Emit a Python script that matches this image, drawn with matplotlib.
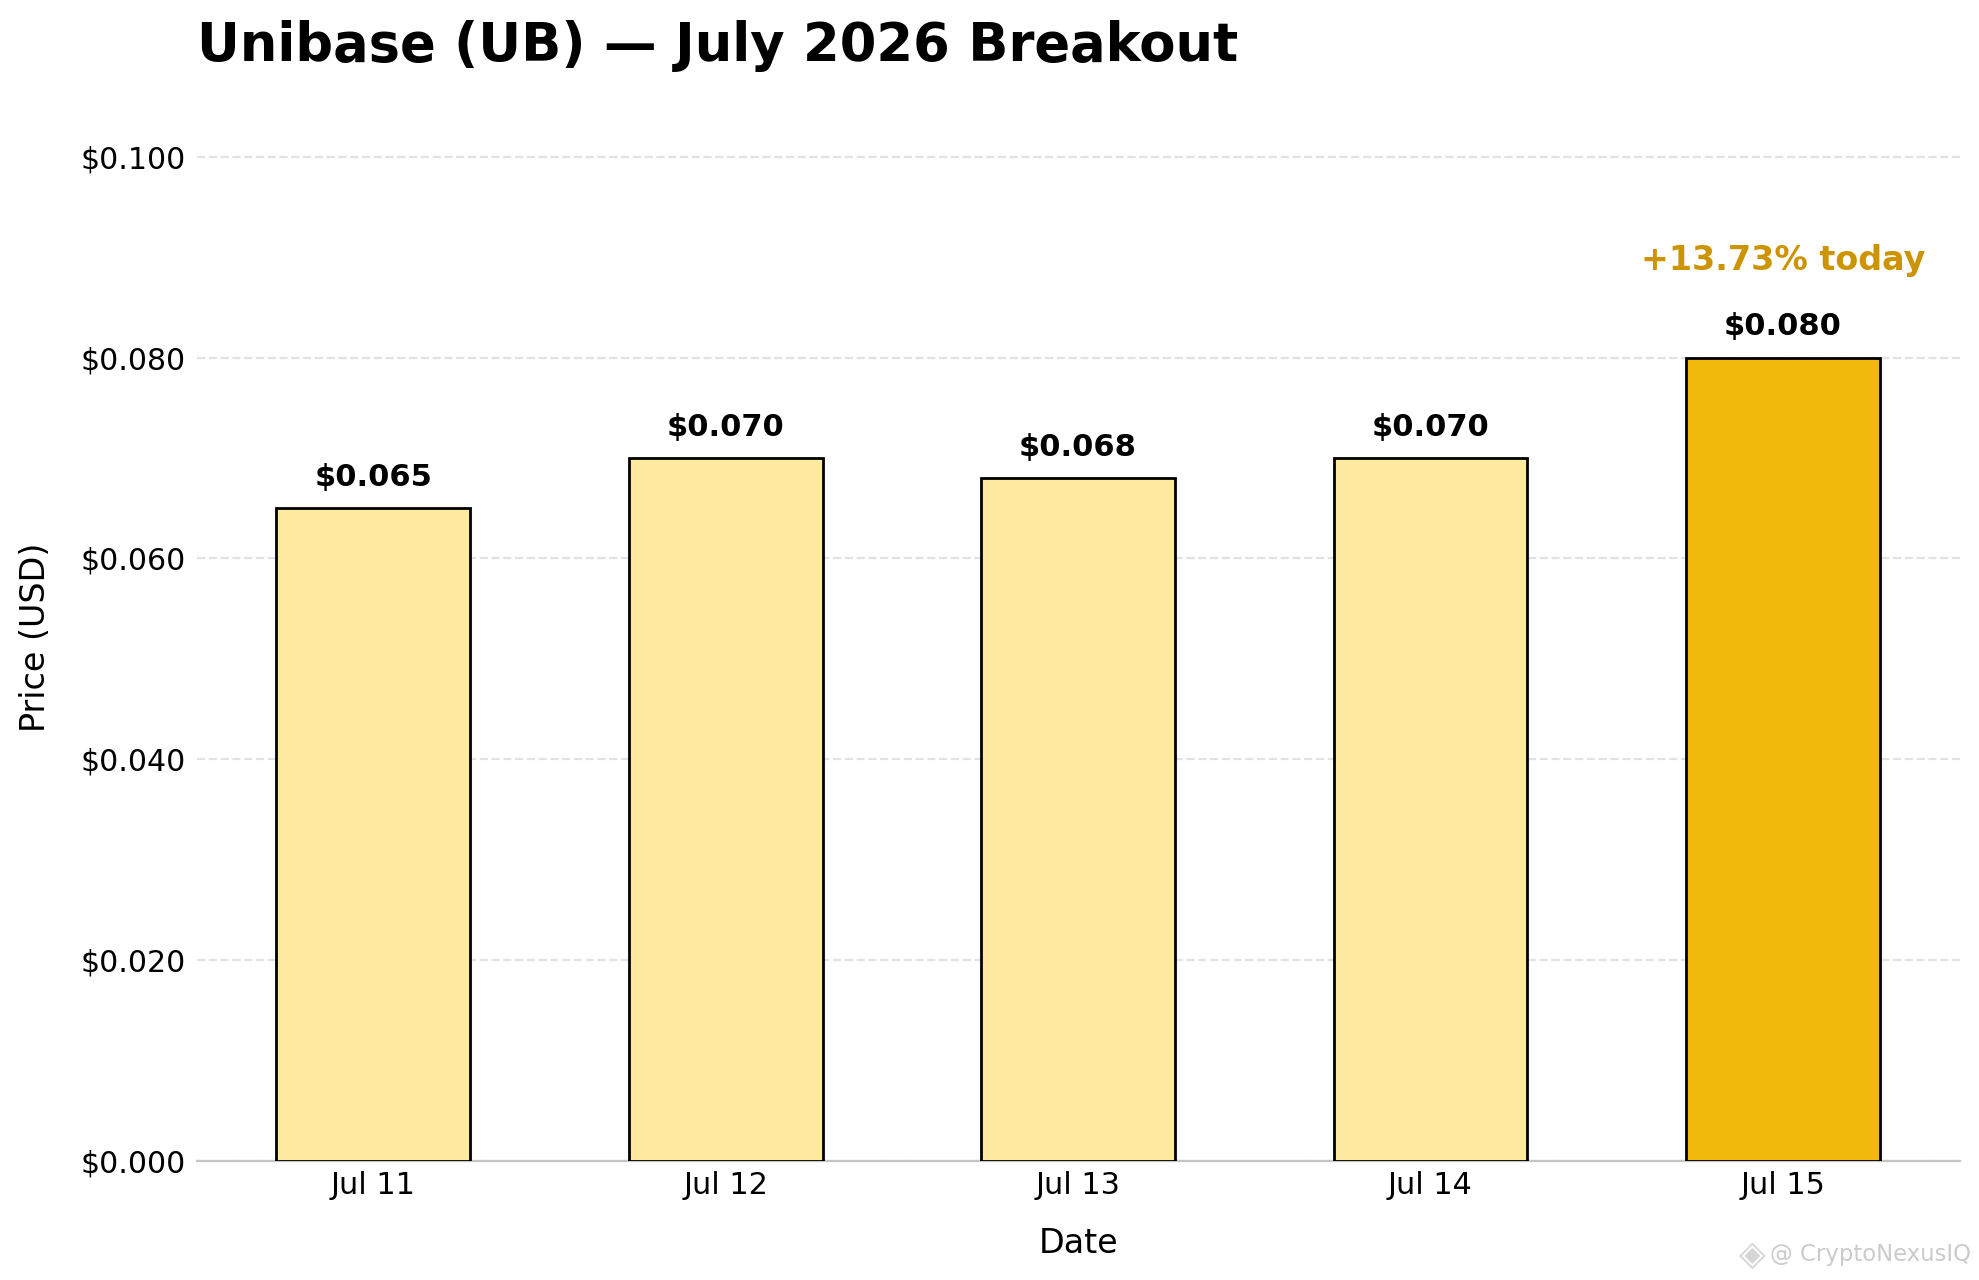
import matplotlib
matplotlib.use("Agg")
import matplotlib.pyplot as plt

dates = ["Jul 11", "Jul 12", "Jul 13", "Jul 14", "Jul 15"]
prices = [0.065, 0.070, 0.068, 0.070, 0.080]
bar_colors = ["#FDE9A0", "#FDE9A0", "#FDE9A0", "#FDE9A0", "#F2B90D"]
y_ticks = [0.0, 0.02, 0.04, 0.06, 0.08, 0.10]

W, H = 1979, 1280
DPI = 200

fig = plt.figure(figsize=(W / DPI, H / DPI), dpi=DPI)
ax = fig.add_axes([197 / W, 1 - 1161 / H, (1960 - 197) / W, (1161 - 113) / H])

bars = ax.bar(range(len(dates)), prices, width=0.55, color=bar_colors,
              edgecolor="black", linewidth=1.0, zorder=3)

# value labels above the bars
for bar, price in zip(bars, prices):
    ax.annotate(f"${price:.3f}", (bar.get_x() + bar.get_width() / 2, price),
                xytext=(0, 5.9), textcoords="offset points", ha="center", va="bottom",
                fontsize=11, fontweight="bold", color="black", zorder=4)

ax.text(4, 0.0897, "+13.73% today", ha="center", va="center", fontsize=12,
        fontweight="bold", color="#CC9400")

ax.set_xlim(-0.5005, 4.503)
ax.set_ylim(0, 0.10435)
ax.set_xticks(range(len(dates)))
ax.set_xticklabels(dates)
ax.set_yticks(y_ticks)
ax.set_yticklabels([f"${t:.3f}" for t in y_ticks])
ax.tick_params(axis="x", length=0, labelsize=10.9, pad=3.6)
ax.tick_params(axis="y", length=0, labelsize=10.8, pad=4.1)

ax.grid(axis="y", linestyle="--", color="#E2E2E2", linewidth=0.8, zorder=0)
ax.set_axisbelow(True)
for side in ["top", "right", "left"]:
    ax.spines[side].set_visible(False)
ax.spines["bottom"].set_color("#C4C4C4")
ax.spines["bottom"].set_linewidth(0.8)

ax.set_xlabel("Date", fontsize=12, labelpad=9.6)
ax.set_ylabel("Price (USD)", fontsize=12, labelpad=10.2)

fig.text(197 / W, 1 - 46.5 / H, "Unibase (UB) \u2014 July 2026 Breakout", fontsize=19,
         fontweight="bold", ha="left", va="center", color="black")

# watermark in the bottom right corner
fig.text(1971 / W, 1 - 1255 / H, "@ CryptoNexusIQ", fontsize=8.2, ha="right",
         va="center", color="#CBCBCB")
fig.text(1752 / W, 1 - 1255 / H, "\u25c8", fontsize=12.5, ha="center",
         va="center", color="#D6D6D6")

fig.savefig("out.png", dpi=DPI)
